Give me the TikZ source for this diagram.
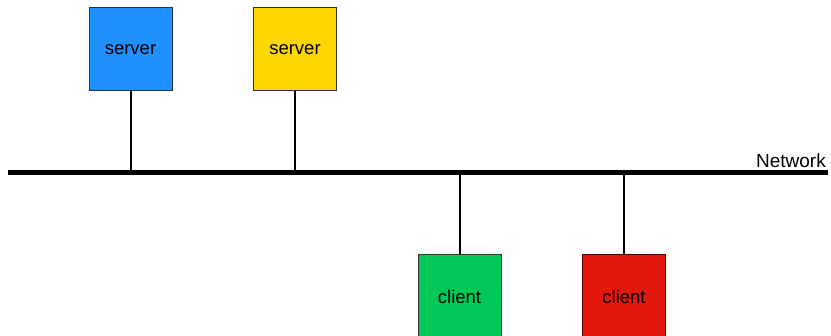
\documentclass[tikz,border=0pt]{standalone}
\usepackage{fontspec}
\setmainfont{Liberation Sans}
\definecolor{srvblue}{HTML}{1E90FF}
\definecolor{srvyellow}{HTML}{FFD700}
\definecolor{cligreen}{HTML}{00C957}
\definecolor{clired}{HTML}{E3170D}
\begin{document}
\begin{tikzpicture}[x=1pt,y=-1pt,
  box/.style={draw=black!80, line width=1pt, minimum width=83pt, minimum height=83pt, inner sep=0pt, font=\fontsize{18.5}{22}\selectfont},
  link/.style={line width=2pt, draw=black},
  net/.style={line width=5pt, draw=black}]
\useasboundingbox (0,0) rectangle (831,336);
\clip (0,0) rectangle (831,336);
\node[box, fill=srvblue] (s1) at (130.5,49.5) {server};
\node[box, fill=srvyellow] (s2) at (295,49.5) {server};
\node[box, fill=cligreen] (c1) at (459.5,296.5) {client};
\node[box, fill=clired, draw=black!70!red] (c2) at (624,296.5) {client};
\coordinate (nl) at (8,172.5);
\coordinate (nr) at (828,172.5);
\draw[net] (nl) -- (nr);
\node[anchor=base east, inner sep=0pt, font=\fontsize{19}{22}\selectfont] (lbl) at (826,168) {Network};
\draw[link] (s1.south) -- (s1.south |- nl);
\draw[link] (s2.south) -- (s2.south |- nl);
\draw[link] (c1.north) -- (c1.north |- nl);
\draw[link] (c2.north) -- (c2.north |- nl);
\end{tikzpicture}
\end{document}
